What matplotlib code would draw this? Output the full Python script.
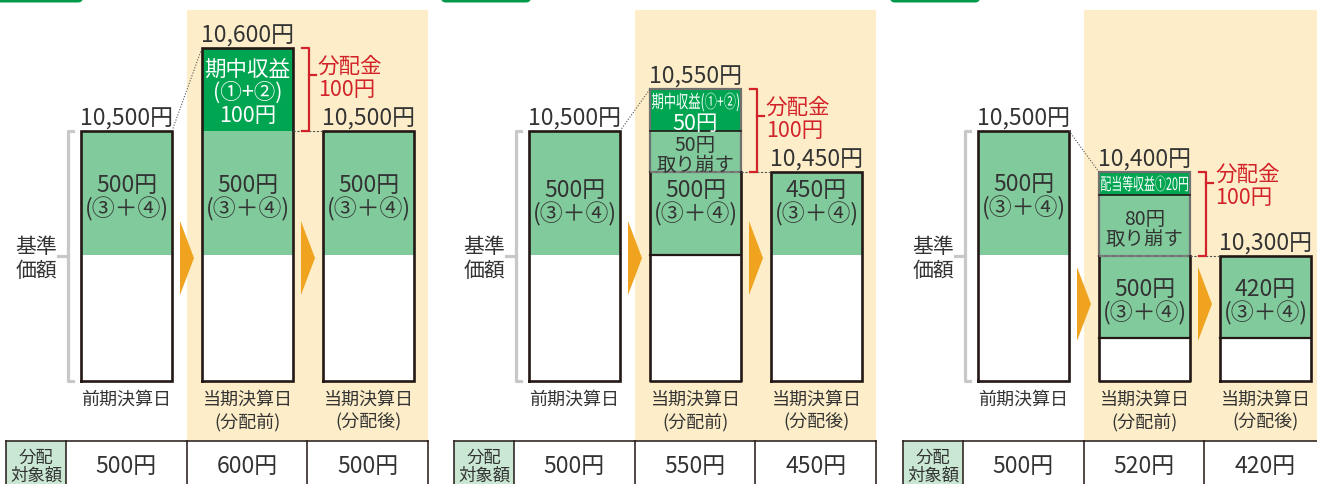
import matplotlib.pyplot as plt
from matplotlib.patches import Polygon, FancyBboxPatch, PathPatch
from matplotlib.textpath import TextPath
from matplotlib.font_manager import FontProperties
from matplotlib.transforms import Affine2D

plt.rcParams['font.family'] = ['Noto Sans CJK JP', 'DejaVu Sans']

# ---- data ----
dates = ["前期決算日", "当期決算日\n(分配前)", "当期決算日\n(分配後)"]
nav = [[10500, 10600, 10500], [10500, 10550, 10450], [10500, 10400, 10300]]
income = [100, 50, 20]
income_text = [["期中収益", "(①+②)", "{}円"], ["期中収益(①+②)", "{}円"], ["配当等収益①{}円"]]
drawdown = [0, 50, 80]
core_before = [500, 500, 500]
core_after = [500, 450, 420]
prev_core = 500
distribution = 100
targets = [[500, 600, 500], [500, 550, 450], [500, 520, 420]]

# ---- colours ----
G_LIGHT = '#80ca9b'
G_DARK = '#00a551'
YELLOW = '#fdeec9'
ORANGE = '#f0a31e'
RED = '#d2232a'
TXT = '#333333'
EDGE = '#231815'

# ---- schematic layout (pixels, not to scale) ----
panel_x = [0, 448, 897]
bar_x = [81, 202, 323]
bar_w = 91
y_top1, y_mid1, y_base = 132, 256, 382
b2_top = [49, 90, 173]
b2_inc = [132, 132, 196]
b2_core = [132, 173, 257]
b2_mid = [256, 256, 339]
b3_top = [132, 173, 257]
b3_mid = [256, 256, 339]
core_ty = [[195, 195, 195], [200, 200, 200], [194, 299, 299]]
tick_y = [76, 117, 184]
arrow_y = [259, 259, 305]
sep_line = [[0, 0, 0], [0, 1, 0], [0, 1, 1]]
DY = 2.5  # CJK glyphs sit a little high with va='center'

fig = plt.figure(figsize=(13.17, 4.85), dpi=100)
ax = fig.add_axes([0, 0, 1, 1])
ax.set_xlim(0, 1317)
ax.set_ylim(485, 0)
ax.axis('off')

jp = FontProperties(family='Noto Sans CJK JP')


def txt(x, y, s, ha='center', **kw):
    ax.text(x, y + DY, s, ha=ha, va='center', **kw)


def lines(x, yc, strs, step, **kw):
    n = len(strs)
    for i, s in enumerate(strs):
        txt(x, yc + (i - (n - 1) / 2) * step, s, **kw)


def narrow_text(x, yc, s, size, width, color):
    # condensed label: text outline squeezed to the given pixel width
    tp = TextPath((0, 0), s, size=size, prop=jp)
    ext = tp.get_extents()
    sx = width / ext.width
    tr = (Affine2D().translate(-ext.x0 - ext.width / 2, -ext.y0 - ext.height / 2)
          .scale(sx, -1).translate(x, yc) + ax.transData)
    ax.add_patch(PathPatch(tp, transform=tr, color=color, lw=0))


def seg(x, top, bot, color):
    ax.bar(x, bot - top, bottom=top, width=bar_w, align='edge', color=color, lw=0)


def outline(x, top, bot, color=EDGE, lw=1.9):
    ax.plot([x, x, x + bar_w, x + bar_w, x], [bot, top, top, bot, bot],
            color=color, lw=lw, solid_joinstyle='miter')


for p in range(3):
    px = panel_x[p]
    xs = [px + b for b in bar_x]
    cx = [x + bar_w / 2 for x in xs]

    # header stub + yellow band
    ax.add_patch(FancyBboxPatch((px - 7, -12), 90, 15.5, boxstyle='round,pad=0,rounding_size=5',
                                color='#00984a', lw=0))
    ax.add_patch(plt.Rectangle((px + 187, 11), 241, 431, color=YELLOW, lw=0, zorder=0))

    # 基準価額 bracket
    ax.plot([px + 73, px + 68, px + 68, px + 73], [y_top1, y_top1, y_base, y_base],
            color='#c8c8c8', lw=2.3)
    ax.plot([px + 58, px + 68], [257, 257], color='#c8c8c8', lw=2.3)
    lines(px + 36, 257, ["基準", "価額"], 24, fontsize=15, color=TXT)

    # bar 1 (previous period)
    seg(xs[0], y_top1, y_mid1, G_LIGHT)
    seg(xs[0], y_mid1, y_base, 'white')
    outline(xs[0], y_top1, y_base)
    lines(cx[0], core_ty[p][0], [f"{prev_core}円", "(③＋④)"], 24, fontsize=16.5, color=TXT)

    # bar 2 (before distribution)
    seg(xs[1], b2_top[p], b2_inc[p], G_DARK)
    seg(xs[1], b2_inc[p], b2_mid[p], G_LIGHT)
    seg(xs[1], b2_mid[p], y_base, 'white')
    if drawdown[p]:
        outline(xs[1], b2_top[p], b2_core[p], color='#707070', lw=1.6)
        ax.plot([xs[1], xs[1] + bar_w], [b2_inc[p]] * 2, color=EDGE, lw=1.2)
        ax.plot([xs[1], xs[1], xs[1] + bar_w, xs[1] + bar_w],
                [b2_core[p], y_base, y_base, b2_core[p]], color=EDGE, lw=1.9)
        ax.plot([xs[1], xs[1] + bar_w], [b2_core[p]] * 2, color='#808080', lw=1.2, ls=(0, (3, 2)))
        lines(cx[1], (b2_inc[p] + b2_core[p]) / 2 + 1, [f"{drawdown[p]}円", "取り崩す"], 20,
              fontsize=14, color=TXT)
    else:
        outline(xs[1], b2_top[p], y_base)
    if sep_line[p][1]:
        ax.plot([xs[1], xs[1] + bar_w], [b2_mid[p]] * 2, color=EDGE, lw=1.6)

    it = income_text[p]
    if p == 0:
        lines(cx[1], (b2_top[p] + b2_inc[p]) / 2,
              [it[0], it[1], it[2].format(income[p])], 23.5, fontsize=15.5, color='white')
    elif p == 1:
        narrow_text(cx[1], b2_top[p] + 13, it[0], 18, 87, 'white')
        txt(cx[1], b2_top[p] + 32, it[1].format(income[p]), fontsize=15.5, color='white')
    else:
        narrow_text(cx[1], (b2_top[p] + b2_inc[p]) / 2, it[0].format(income[p]), 17, 87, 'white')
    lines(cx[1], core_ty[p][1], [f"{core_before[p]}円", "(③＋④)"], 24, fontsize=16.5, color=TXT)

    # bar 3 (after distribution)
    seg(xs[2], b3_top[p], b3_mid[p], G_LIGHT)
    seg(xs[2], b3_mid[p], y_base, 'white')
    outline(xs[2], b3_top[p], y_base)
    if sep_line[p][2]:
        ax.plot([xs[2], xs[2] + bar_w], [b3_mid[p]] * 2, color=EDGE, lw=1.6)
    lines(cx[2], core_ty[p][2], [f"{core_after[p]}円", "(③＋④)"], 24, fontsize=16.5, color=TXT)

    # NAV labels and dates
    tops = [y_top1, b2_top[p], b3_top[p]]
    for i in range(3):
        txt(cx[i], tops[i] - 15, f"{nav[p][i]:,}円", fontsize=16.5, color=TXT)
        lines(cx[i], 397 + 11.5 * (dates[i].count("\n")), dates[i].split("\n"), 23,
              fontsize=13, color=TXT)

    # connectors
    ax.plot([xs[0] + bar_w, xs[1]], [y_top1, b2_top[p]], color='#555555', lw=0.8, ls=(0, (1, 1.5)))
    ax.plot([xs[1] + bar_w, xs[2]], [b2_core[p], b3_top[p]], color='#555555', lw=0.8,
            ls=(0, (2, 1.5)))

    # distribution bracket
    ax.plot([px + 302, px + 309, px + 309, px + 302], [b2_top[p], b2_top[p], b2_core[p], b2_core[p]],
            color=RED, lw=1.6)
    ax.plot([px + 309, px + 316], [tick_y[p]] * 2, color=RED, lw=1.6)
    for j, s in enumerate(["分配金", f"{distribution}円"]):
        txt(px + 318, tick_y[p] - 11.5 + 23 * j, s, ha='left', fontsize=15.5, color=RED)

    # arrows
    for ax0 in (180, 301):
        ax.add_patch(Polygon([(px + ax0, arrow_y[p] - 37), (px + ax0 + 14, arrow_y[p]),
                              (px + ax0, arrow_y[p] + 37)], closed=True, color=ORANGE, lw=0))

    # table
    ax.add_patch(plt.Rectangle((px + 5.5, 442), 60.5, 50, color='#c9e7d3', lw=0))
    ax.plot([px + 5.5, min(px + 428, 1317)], [442, 442], color=EDGE, lw=1.1)
    for vx in (5.5, 66, 187, 307, 428):
        ax.plot([px + vx] * 2, [442, 490], color=EDGE, lw=1.1)
    txt(px + 36, 455, "分配", fontsize=12.5, color=TXT)
    txt(px + 36, 473, "対象額", fontsize=12.5, color=TXT)
    for i in range(3):
        txt(px + (126, 247, 368)[i], 464, f"{targets[p][i]}円", fontsize=16.5, color=TXT)

fig.savefig("out.png", dpi=100)
